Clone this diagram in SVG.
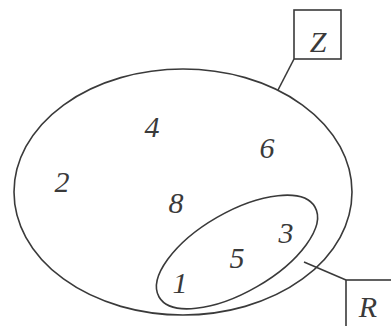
<svg xmlns="http://www.w3.org/2000/svg" width="391" height="326" viewBox="0 0 391 326">
<style>
.s{fill:none;stroke:#3a3a3a;stroke-width:1.6}
</style>
<rect width="391" height="326" fill="#fff"/>
<g id="connectors">
<line class="s" x1="294" y1="59" x2="278" y2="90"/>
<line class="s" x1="304" y1="262" x2="346" y2="280"/>
</g>
<g id="Zset"><ellipse class="s" cx="183" cy="192" rx="169" ry="123"/></g>
<g id="Rset"><ellipse class="s" cx="237" cy="252" rx="90" ry="40" transform="rotate(-30 237 252)"/></g>
<g font-family="Liberation Serif, serif" font-style="italic" font-size="30" fill="#3a3a3a" text-anchor="middle">
<g id="Zlabel"><rect class="s" x="294" y="10" width="47" height="49"/><text x="318" y="52">Z</text></g>
<g id="Rlabel"><rect class="s" x="346" y="280" width="48" height="50"/><text x="368" y="317">R</text></g>
<g id="elements">
<text x="152" y="137">4</text>
<text x="267" y="158">6</text>
<text x="62" y="192">2</text>
<text x="176" y="213">8</text>
<text x="286" y="243">3</text>
<text x="237" y="268">5</text>
<text x="180" y="293">1</text>
</g>
</g>
</svg>
